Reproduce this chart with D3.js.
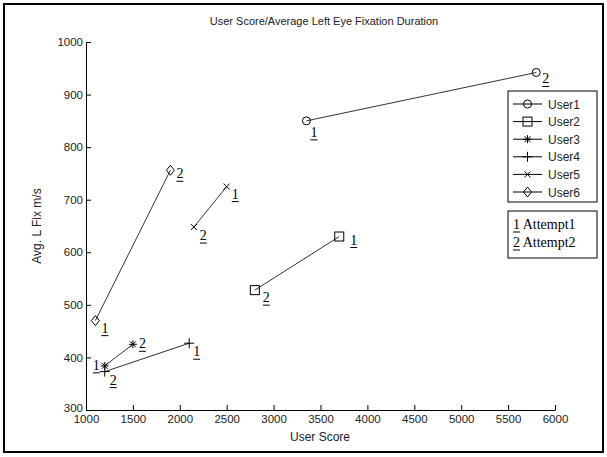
<!DOCTYPE html>
<html><head><meta charset="utf-8">
<script src="https://cdn.jsdelivr.net/npm/d3@7"></script>
<style>
body{margin:0;background:#fff;}
svg{display:block;font-family:"Liberation Sans",Arial,sans-serif;}
</style></head>
<body><svg id="c" width="607" height="457"></svg>
<script>
const users = ["User1","User2","User3","User4","User5","User6"];
const markerTypes = ["circle","square","star","plus","cross","diamond"];
const attempt1Score = [3350, 3700, 1200, 2100, 2500, 1100];
const attempt1Fix   = [850, 630, 384, 427, 725, 470];
const attempt2Score = [5800, 2800, 1500, 1200, 2150, 1900];
const attempt2Fix   = [942, 528, 425, 373, 648, 756];
const xTicks = [1000,1500,2000,2500,3000,3500,4000,4500,5000,5500,6000];
const yTicks = [300,400,500,600,700,800,900,1000];
const attemptLabels = ["Attempt1","Attempt2"];

const SERIF = "'Liberation Serif','Times New Roman',serif";
const SANS = "'Liberation Sans',Arial,sans-serif";

const svg = d3.select("#c");
svg.append("rect").attr("x",4).attr("y",4).attr("width",599).attr("height",448)
  .attr("fill","#fff").attr("stroke","#000").attr("stroke-width",2);

const x = d3.scaleLinear().domain([1000,6000]).range([86,555]);
const y = d3.scaleLinear().domain([300,1000]).range([410,42]);

const xAxis = d3.axisBottom(x).tickValues(xTicks).tickSizeInner(-5).tickSizeOuter(0).tickPadding(4).tickFormat(d3.format("d"));
const yAxis = d3.axisLeft(y).tickValues(yTicks).tickSizeInner(-5).tickSizeOuter(0).tickPadding(4).tickFormat(d3.format("d"));
const gx = svg.append("g").attr("transform","translate(0,410)").call(xAxis);
const gy = svg.append("g").attr("transform","translate(86,0)").call(yAxis);
[gx,gy].forEach(g=>{
  g.attr("font-family",SANS).attr("font-size",11.5);
  g.select(".domain").attr("stroke","#000");
  g.selectAll(".tick line").attr("stroke","#000");
  g.selectAll(".tick text").attr("fill","#222");
});
gx.selectAll(".tick text").attr("dy","0.71em").attr("y",5);
gy.selectAll(".tick text").attr("x",-3).attr("dy","0.32em");
gy.selectAll(".tick").filter(d=>d===300).select("text").attr("dy","0.1em");

svg.append("text").attr("x",324).attr("y",25).attr("text-anchor","middle").attr("font-size",11).attr("fill","#222")
  .text("User Score/Average Left Eye Fixation Duration");
svg.append("text").attr("x",320).attr("y",441).attr("text-anchor","middle").attr("font-size",12).attr("fill","#222")
  .text("User Score");
svg.append("text").attr("transform","translate(41,226) rotate(-90)").attr("text-anchor","middle").attr("font-size",12).attr("fill","#222")
  .text("Avg. L Fix m/s");

function marker(g, type, cx, cy){
  const s = g.append("g").attr("transform",`translate(${cx},${cy})`).attr("fill","none").attr("stroke","#000").attr("stroke-width",1);
  if(type==="circle") s.append("circle").attr("r",4);
  else if(type==="square") s.append("rect").attr("x",-4.5).attr("y",-4.5).attr("width",9).attr("height",9);
  else if(type==="star") s.append("path").attr("d","M-4,0H4M0,-4V4M-3,-3L3,3M-3,3L3,-3");
  else if(type==="plus") s.append("path").attr("d","M-5,0H5M0,-5V5");
  else if(type==="cross") s.append("path").attr("d","M-3,-3L3,3M-3,3L3,-3");
  else if(type==="diamond") s.append("path").attr("d","M0,-5L4,0L0,5L-4,0Z");
}

const plot = svg.append("g");
users.forEach((u,i)=>{
  plot.append("line").attr("x1",x(attempt1Score[i])).attr("y1",y(attempt1Fix[i]))
    .attr("x2",x(attempt2Score[i])).attr("y2",y(attempt2Fix[i])).attr("stroke","#333").attr("stroke-width",1);
});
users.forEach((u,i)=>{
  marker(plot, markerTypes[i], x(attempt1Score[i]), y(attempt1Fix[i]));
  marker(plot, markerTypes[i], x(attempt2Score[i]), y(attempt2Fix[i]));
});

function digit(g, px, py, txt){
  g.append("text").attr("x",px).attr("y",py).style("font-family",SERIF)
    .attr("font-size",14).attr("fill","#000").text(txt);
  g.append("line").attr("x1",px).attr("x2",px+7).attr("y1",py+3).attr("y2",py+3).attr("stroke","#000");
}
// label offsets (style): default below-right, a few exceptions
const off1 = [[4,16],[11,8],[-12,4],[4,13],[5,12],[6,12]];
const off2 = [[6,11],[8,12],[6,4],[5,13],[6,13],[6,8]];
users.forEach((u,i)=>{
  digit(plot, x(attempt1Score[i])+off1[i][0], y(attempt1Fix[i])+off1[i][1], "1");
  digit(plot, x(attempt2Score[i])+off2[i][0], y(attempt2Fix[i])+off2[i][1], "2");
});

// legend
const lg = svg.append("g");
lg.append("rect").attr("x",508).attr("y",91).attr("width",89).attr("height",111).attr("fill","#fff").attr("stroke","#000");
users.forEach((u,i)=>{
  const ly = 104 + i*17.6;
  lg.append("line").attr("x1",513).attr("x2",542).attr("y1",ly).attr("y2",ly).attr("stroke","#000");
  marker(lg, markerTypes[i], 527.5, ly);
  lg.append("text").attr("x",548).attr("y",ly+4.5).attr("font-size",12).attr("fill","#222").text(u);
});
const ag = svg.append("g");
ag.append("rect").attr("x",508).attr("y",211).attr("width",89).attr("height",47).attr("fill","#fff").attr("stroke","#000");
attemptLabels.forEach((a,i)=>{
  const ty = 229 + i*18;
  ag.append("text").attr("x",513).attr("y",ty).style("font-family",SERIF)
    .attr("font-size",14).attr("fill","#000").text((i+1)+" "+a);
  ag.append("line").attr("x1",513).attr("x2",520).attr("y1",ty+3).attr("y2",ty+3).attr("stroke","#000");
});
</script></body></html>
